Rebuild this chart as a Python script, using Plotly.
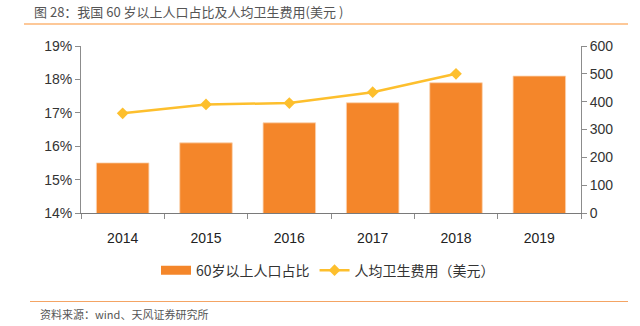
import plotly.graph_objects as go

# Data
years = ["2014", "2015", "2016", "2017", "2018", "2019"]
elderly_share = [15.5, 16.1, 16.7, 17.3, 17.9, 18.1]          # % of population aged 60+
health_spend_years = ["2014", "2015", "2016", "2017", "2018"]
health_spend = [358, 390, 395, 434, 500]                       # per-capita health spending, USD

bar_name = "60岁以上人口占比"
line_name = "人均卫生费用（美元）"
title_text = "图 28：我国 60 岁以上人口占比及人均卫生费用(美元 )"
source_text = "资料来源：wind、天风证券研究所"

CJK = "Noto Sans CJK SC, sans-serif"
NUM = "Liberation Sans Narrow, Arial Narrow, Liberation Sans, sans-serif"
BAR_COLOR = "#F4862A"
LINE_COLOR = "#FDBF2D"

fig = go.Figure()
fig.add_trace(go.Bar(
    x=years, y=elderly_share, name=bar_name,
    marker=dict(color=BAR_COLOR, line=dict(color="#FAD3B0", width=0.8)),
    yaxis="y", legendgroup="bar", showlegend=False,
))
# Legend key for the bars: a wide flat swatch
fig.add_trace(go.Scatter(
    x=[None], y=[None], name=bar_name, mode="lines",
    line=dict(color=BAR_COLOR, width=9), legendgroup="bar",
))
fig.add_trace(go.Scatter(
    x=health_spend_years, y=health_spend, name=line_name,
    mode="lines+markers",
    line=dict(color=LINE_COLOR, width=2.5),
    marker=dict(symbol="diamond", size=9, color=LINE_COLOR),
    yaxis="y2",
))

axis_color = "#8c8c8c"
fig.update_layout(
    width=640, height=326,
    margin=dict(l=81, r=59, t=46, b=113),
    paper_bgcolor="white", plot_bgcolor="white",
    bargap=0.37,
    font=dict(family=NUM, size=14, color="#333333"),
    xaxis=dict(
        type="category", showgrid=False,
        showline=True, linecolor="#7a7a7a", linewidth=1.2,
        ticks="outside", tickson="boundaries", ticklen=5, tickcolor=axis_color,
        ticklabelstandoff=12,
        tickfont=dict(family=NUM, size=14, color="#222222"),
    ),
    yaxis=dict(
        range=[14, 19], dtick=1, ticksuffix="%", showgrid=False, zeroline=False,
        showline=True, linecolor=axis_color, linewidth=1,
        ticks="outside", ticklen=5, tickcolor=axis_color,
        tickfont=dict(family=NUM, size=14, color="#333333"),
    ),
    yaxis2=dict(
        range=[0, 600], dtick=100, overlaying="y", side="right",
        showgrid=False, zeroline=False,
        showline=True, linecolor=axis_color, linewidth=1,
        ticks="outside", ticklen=5, tickcolor=axis_color,
        tickfont=dict(family=NUM, size=14, color="#333333"),
    ),
    legend=dict(
        orientation="h", x=0.15, xanchor="left", y=-0.345, yanchor="middle",
        font=dict(family=CJK, size=14, color="#333333"),
        bgcolor="rgba(0,0,0,0)", itemwidth=30,
    ),
    showlegend=True,
)

# Header title and rules
fig.add_annotation(
    text=title_text, xref="paper", yref="paper",
    x=(32 - 81) / 500, y=(213 - 12) / 167,
    xanchor="left", yanchor="middle", showarrow=False,
    font=dict(family=CJK, size=13, color="#555555"),
)
fig.add_shape(type="line", xref="paper", yref="paper",
              x0=(24 - 81) / 500, x1=(628 - 81) / 500,
              y0=(213 - 24) / 167, y1=(213 - 24) / 167,
              line=dict(color="#FDC898", width=2.2))

# Footer rule and source note
fig.add_shape(type="line", xref="paper", yref="paper",
              x0=(30 - 81) / 500, x1=(628 - 81) / 500,
              y0=(213 - 301.5) / 167, y1=(213 - 301.5) / 167,
              line=dict(color="#F4A464", width=1.2))
fig.add_annotation(
    text=source_text, xref="paper", yref="paper",
    x=(38 - 81) / 500, y=(213 - 314) / 167,
    xanchor="left", yanchor="middle", showarrow=False,
    font=dict(family=CJK, size=11, color="#555555"),
)

fig.write_html("out.html")
